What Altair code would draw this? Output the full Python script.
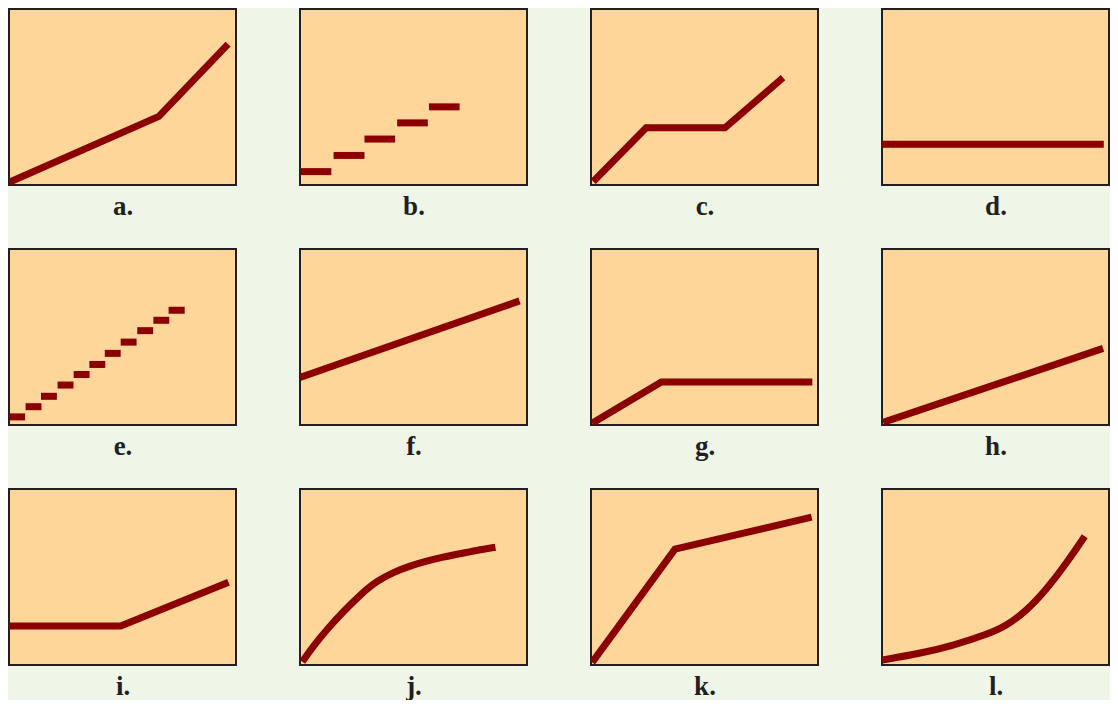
import altair as alt
import pandas as pd

# ---------------- data (panel units: x 0..10, y 0..10) ----------------
labels = ["a.", "b.", "c.", "d.", "e.", "f.", "g.", "h.", "i.", "j.", "k.", "l."]

a_x = [0.0, 6.6, 9.65]
a_y = [0.15, 3.9, 8.0]

b_x1 = [0.03, 1.48, 2.84, 4.28, 5.68]
b_x2 = [1.38, 2.84, 4.19, 5.63, 7.03]
b_y = [0.76, 1.68, 2.61, 3.53, 4.44]

c_x = [0.1, 2.43, 5.9, 8.46]
c_y = [0.2, 3.25, 3.25, 6.1]

d_x = [0.0, 9.77]
d_y = [2.32, 2.32]

e_x1 = [0.03, 0.73, 1.41, 2.14, 2.85, 3.54, 4.22, 4.92, 5.65, 6.36, 7.03]
e_x2 = [0.71, 1.43, 2.11, 2.84, 3.55, 4.24, 4.92, 5.62, 6.35, 7.06, 7.74]
e_y = [0.46, 1.04, 1.63, 2.27, 2.87, 3.44, 4.07, 4.71, 5.36, 5.95, 6.52]

f_x = [0.0, 9.67]
f_y = [2.7, 7.05]

g_x = [0.05, 3.1, 9.75]
g_y = [0.1, 2.45, 2.45]

h_x = [0.05, 9.74]
h_y = [0.15, 4.35]

i_x = [0.0, 4.92, 9.67]
i_y = [2.22, 2.22, 4.7]

j_x = [0.1, 0.61, 1.2, 1.93, 2.66, 3.39, 4.12, 4.85, 5.58, 6.31, 7.04, 7.77, 8.61]
j_y = [0.19, 1.12, 2.04, 3.07, 4.0, 4.78, 5.27, 5.63, 5.91, 6.13, 6.32, 6.51, 6.69]

k_x = [0.05, 3.7, 9.72]
k_y = [0.15, 6.58, 8.4]

l_x = [0.0, 1.67, 3.13, 4.59, 5.47, 6.35, 7.22, 8.1, 8.93]
l_y = [0.28, 0.65, 1.11, 1.72, 2.22, 3.06, 4.26, 5.74, 7.31]

# ---------------- style ----------------
RED = "#8B0000"
PANEL = "#FED69A"
BORDER = "#231F20"
BG = "#EFF6E8"
W, H = 227, 176

xs = alt.Scale(domain=[0, 10], nice=False, zero=False)
ys = alt.Scale(domain=[0, 10], nice=False, zero=False)


def xaxis(label):
    return alt.Axis(title=label, labels=False, ticks=False, domain=False, grid=False,
                    titleFont="Liberation Serif", titleFontSize=27, titleFontWeight="bold",
                    titleColor=BORDER, titlePadding=29, titleBaseline="alphabetic")


def line_panel(xv, yv, label, curve=False):
    df = pd.DataFrame({"x": xv, "y": yv})
    return alt.Chart(df).mark_line(
        color=RED, strokeWidth=7, clip=True, strokeCap="butt",
        interpolate="basis" if curve else "linear"
    ).encode(
        x=alt.X("x:Q", scale=xs, axis=xaxis(label)),
        y=alt.Y("y:Q", scale=ys, axis=None),
    ).properties(width=W, height=H)


def step_panel(x1, x2, yv, label):
    df = pd.DataFrame({"x": x1, "x2": x2, "y": yv})
    return alt.Chart(df).mark_rule(color=RED, strokeWidth=7, strokeCap="butt", clip=True).encode(
        x=alt.X("x:Q", scale=xs, axis=xaxis(label)),
        x2="x2:Q",
        y=alt.Y("y:Q", scale=ys, axis=None),
    ).properties(width=W, height=H)


panels = [
    line_panel(a_x, a_y, labels[0]),
    step_panel(b_x1, b_x2, b_y, labels[1]),
    line_panel(c_x, c_y, labels[2]),
    line_panel(d_x, d_y, labels[3]),
    step_panel(e_x1, e_x2, e_y, labels[4]),
    line_panel(f_x, f_y, labels[5]),
    line_panel(g_x, g_y, labels[6]),
    line_panel(h_x, h_y, labels[7]),
    line_panel(i_x, i_y, labels[8]),
    line_panel(j_x, j_y, labels[9], curve=True),
    line_panel(k_x, k_y, labels[10]),
    line_panel(l_x, l_y, labels[11], curve=True),
]

chart = alt.concat(
    *panels, columns=4, spacing=alt.RowColnumber(row=64, column=64), bounds="flush"
).properties(
    padding=0, background=BG
).configure_view(fill=PANEL, stroke=BORDER, strokeWidth=2)

chart.save("out.html", embed_options={"renderer": "svg", "actions": False})
